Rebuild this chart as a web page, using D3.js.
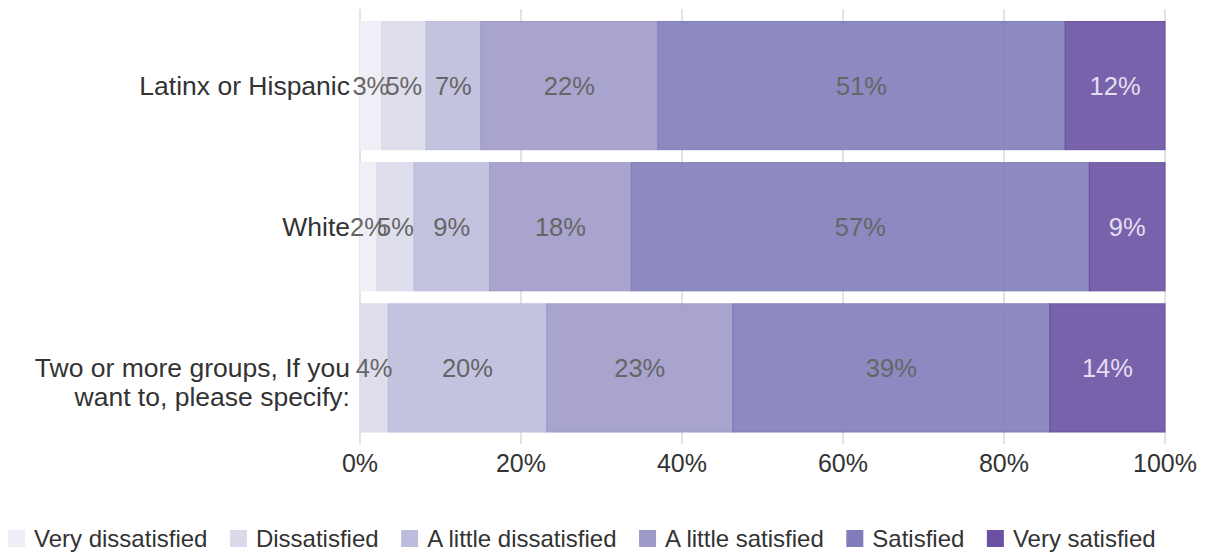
<!DOCTYPE html>
<html><head><meta charset="utf-8">
<script src="https://cdn.jsdelivr.net/npm/d3@7"></script>
<style>
body{margin:0;background:#fff;}
svg text{font-family:"Liberation Sans",Arial,sans-serif;}
</style></head>
<body><svg id="c" width="1209" height="552"></svg>
<script>
const categories = ["Latinx or Hispanic", "White", "Two or more groups, If you want to, please specify:"];
const categoryLines = [["Latinx or Hispanic"], ["White"], ["Two or more groups, If you", "want to, please specify:"]];
const seriesNames = ["Very dissatisfied", "Dissatisfied", "A little dissatisfied", "A little satisfied", "Satisfied", "Very satisfied"];
const veryDissatisfied = [2.7, 2.1, 0];
const dissatisfied = [5.5, 4.6, 3.5];
const littleDissatisfied = [6.8, 9.4, 19.7];
const littleSatisfied = [22.0, 17.6, 23.1];
const satisfied = [50.6, 56.9, 39.4];
const verySatisfied = [12.4, 9.4, 14.3];
const tickValues = [0, 20, 40, 60, 80, 100];
const colors = ["#efedf5", "#dadaeb", "#bcbddc", "#9e9ac8", "#807dba", "#6a51a3"];

const seriesValues = [veryDissatisfied, dissatisfied, littleDissatisfied, littleSatisfied, satisfied, verySatisfied];
const rows = categories.map((c, i) => {
  const r = {cat: c};
  seriesNames.forEach((s, j) => r[s] = seriesValues[j][i]);
  return r;
});
const stacked = d3.stack().keys(seriesNames)(rows);

const svg = d3.select("#c");
const x = d3.scaleLinear().domain([0, 100]).range([360, 1165]);
const y = d3.scaleBand().domain(categories).range([9.5, 444]).paddingInner(0.092).paddingOuter(0.085);
const color = d3.scaleOrdinal().domain(seriesNames).range(colors);

// grid
svg.append("g").selectAll("line").data(tickValues).join("line")
  .attr("x1", d => x(d)).attr("x2", d => x(d))
  .attr("y1", 9).attr("y2", 444)
  .attr("stroke", "#e3e3e3").attr("stroke-width", 2);

// bars
const g = svg.append("g");
stacked.forEach(layer => {
  const key = layer.key;
  g.append("g").selectAll("rect").data(layer).join("rect")
    .attr("x", d => x(d[0])).attr("width", d => x(d[1]) - x(d[0]))
    .attr("y", d => y(d.data.cat)).attr("height", y.bandwidth())
    .attr("fill", color(key)).attr("fill-opacity", 0.9)
    .attr("stroke", color(key)).attr("stroke-width", d => (d[1] - d[0]) > 0 ? 1 : 0);
});
// labels
stacked.forEach((layer, li) => {
  g.append("g").selectAll("text").data(layer.filter(d => d[1] - d[0] > 0)).join("text")
    .attr("x", d => (x(d[0]) + x(d[1])) / 2)
    .attr("y", d => y(d.data.cat) + y.bandwidth() / 2)
    .attr("dy", "0.35em")
    .attr("text-anchor", "middle")
    .attr("font-size", 25.5)
    .attr("fill", li === 5 ? "#e2def0" : "#666")
    .text(d => Math.round(d[1] - d[0]) + "%");
});

// category labels
categories.forEach((c, i) => {
  const t = svg.append("text")
    .attr("x", 350).attr("y", y(c) + y.bandwidth() / 2)
    .attr("text-anchor", "end").attr("font-size", 26.5).attr("fill", "#333");
  categoryLines[i].forEach((ln, k) => {
    t.append("tspan").attr("x", 350).attr("dy", k === 0 ? "0.35em" : "1.1em").text(ln);
  });
});

// x axis tick labels
svg.append("g").selectAll("text").data(tickValues).join("text")
  .attr("x", d => x(d)).attr("y", 472)
  .attr("text-anchor", "middle").attr("font-size", 25).attr("fill", "#333")
  .text(d => d + "%");

// legend
const leg = svg.append("g");
let lx = 8;
seriesNames.forEach((s, i) => {
  leg.append("rect").attr("x", lx).attr("y", 530).attr("width", 17).attr("height", 17).attr("fill", colors[i]);
  const t = leg.append("text").attr("x", lx + 26).attr("y", 547).attr("font-size", 24).attr("fill", "#333").text(s);
  lx += 26 + t.node().getComputedTextLength() + 22.5;
});
</script></body></html>
